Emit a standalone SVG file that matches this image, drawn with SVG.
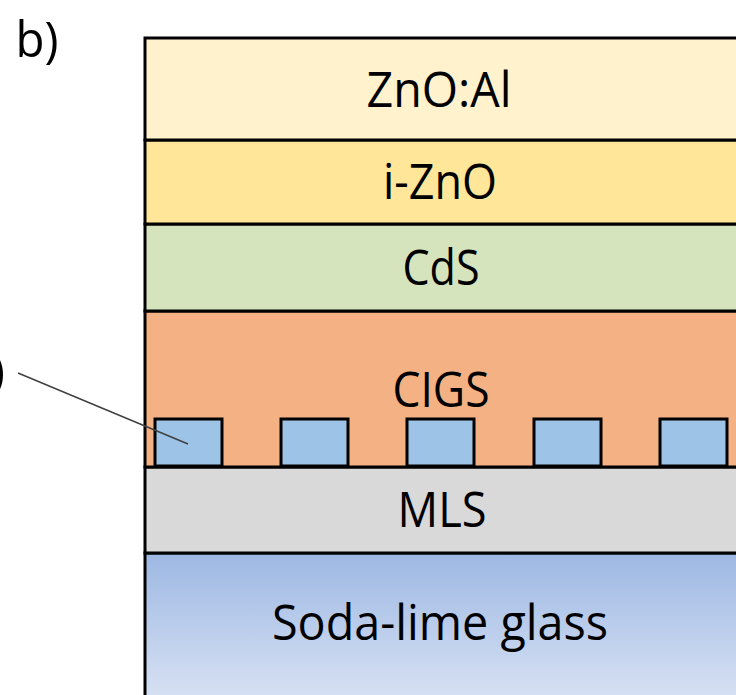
<svg xmlns="http://www.w3.org/2000/svg" width="736" height="695" viewBox="0 0 736 695">
<style>
.layer{stroke:#000;stroke-width:3}
.dot{fill:#9DC3E6;stroke:#000;stroke-width:3}
.lbl{font-family:"Open Sans","Noto Sans",sans-serif;font-size:49px;fill:#000;text-anchor:middle}
</style>
<defs>
<linearGradient id="glass" x1="0" y1="0" x2="0" y2="1">
<stop offset="0" stop-color="#9DB8E3"/>
<stop offset="1" stop-color="#DDE5F5"/>
</linearGradient>
</defs>
<rect width="736" height="695" fill="#fff"/>
<text class="lbl" x="37" y="57" style="font-size:50px" textLength="43" lengthAdjust="spacingAndGlyphs">b)</text>
<text class="lbl" x="5" y="388" style="font-size:50px;text-anchor:end">)</text>
<g id="glass-layer"><rect class="layer" x="145" y="553" width="600" height="160" fill="url(#glass)"/><text class="lbl" x="440" y="640" textLength="336" lengthAdjust="spacingAndGlyphs">Soda-lime glass</text></g>
<g id="mls"><rect class="layer" x="145" y="467" width="600" height="86" fill="#D9D9D9"/><text class="lbl" x="442" y="527" textLength="89" lengthAdjust="spacingAndGlyphs">MLS</text></g>
<g id="cigs"><rect class="layer" x="145" y="311" width="600" height="156" fill="#F4B183"/><text class="lbl" x="441" y="407" textLength="97" lengthAdjust="spacingAndGlyphs">CIGS</text></g>
<g id="cds"><rect class="layer" x="145" y="224" width="600" height="87" fill="#D6E4BE"/><text class="lbl" x="441" y="285" textLength="77" lengthAdjust="spacingAndGlyphs">CdS</text></g>
<g id="izno"><rect class="layer" x="145" y="140" width="600" height="84" fill="#FFE699"/><text class="lbl" x="440" y="199" textLength="114" lengthAdjust="spacingAndGlyphs">i-ZnO</text></g>
<g id="znoal"><rect class="layer" x="145" y="38" width="600" height="102" fill="#FFF2CC"/><text class="lbl" x="439" y="107" textLength="145" lengthAdjust="spacingAndGlyphs">ZnO:Al</text></g>
<g id="dots">
<rect class="dot" x="155" y="419" width="67" height="47"/>
<rect class="dot" x="281" y="419" width="67" height="47"/>
<rect class="dot" x="407" y="419" width="67" height="47"/>
<rect class="dot" x="534" y="419" width="67" height="47"/>
<rect class="dot" x="660" y="419" width="67" height="47"/>
</g>
<g id="connectors"><line x1="18" y1="373" x2="188" y2="444" stroke="#404040" stroke-width="1.5"/></g>
</svg>
